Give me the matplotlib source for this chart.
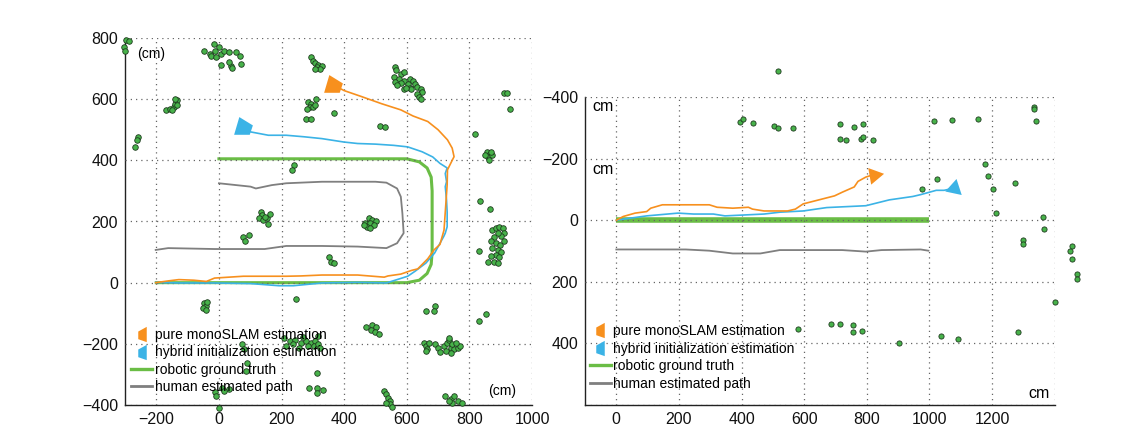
import matplotlib
matplotlib.use('Agg')
import matplotlib.pyplot as plt
from matplotlib.lines import Line2D
from matplotlib.path import Path

plt.rcParams['font.family'] = ['Liberation Sans', 'DejaVu Sans']
plt.rcParams['axes.unicode_minus'] = True

# ---------------- data: left panel (U-turn) ----------------
left_xticks = [-200, 0, 200, 400, 600, 800, 1000]
left_yticks = [-400, -200, 0, 200, 400, 600, 800]

gt_left_x = [0, 600, 640, 665, 678, 681, 681, 678, 665, 640, 600, -200]
gt_left_y = [405, 405, 395, 375, 345, 300, 100, 60, 30, 8, 0, 0]

human_left_x = [0, 101, 118, 169, 215, 329, 443, 500, 535, 569, 581, 586, 590, 569, 535, 443, 329, 215, 146, -14, -162, -202]
human_left_y = [325, 314, 308, 319, 325, 330, 330, 330, 327, 308, 281, 227, 162, 129, 113, 118, 120, 120, 110, 110, 113, 107]

mono_left_x = [-202, -160, -128, -80, -40, -14, 78, 215, 262, 329, 443, 528, 540, 581, 615, 635, 667, 687, 706, 719, 725, 729, 730, 751, 745, 730, 700, 667, 620, 581, 520, 454, 400, 364]
mono_left_y = [0, 6, 10, 8, 4, 15, 21, 21, 22, 25, 25, 18, 22, 28, 40, 45, 78, 107, 125, 172, 261, 320, 369, 412, 440, 467, 500, 527, 545, 565, 585, 609, 628, 647]

hyb_left_x = [-202, -128, -14, 101, 192, 238, 329, 443, 535, 569, 603, 626, 661, 689, 718, 723, 729, 729, 727, 723, 727, 723, 729, 706, 683, 649, 603, 558, 500, 443, 398, 329, 272, 215, 158, 101, 78]
hyb_left_y = [1, -1, -1, -3, -10, -10, -1, 1, -1, 10, 21, 37, 64, 97, 151, 162, 183, 230, 270, 314, 330, 357, 375, 390, 411, 428, 444, 449, 453, 455, 460, 471, 477, 482, 482, 493, 509]

lm_left_x = [-298, -288, -302, -301,
             -16, 0, -14, -29, -48, -25, -8, 6, 15, 32, 55, 66, 72, 38, 32, 7, 41,
             295, 301, 306, 318, 312, 329, 323, 306,
             563, 567, 581, 592, 558, 575, 592, 609, 621, 626, 603, 581, 563, 569, 592, 609, 632, 644, 649, 632, 638, 644, 615, 598,
             910, 921, 929,
             -170, -157, -145, -139, -134, -141, -134, -151,
             283, 295, 290, 301, 306, 281, 309, 278, 295, 369,
             514, 529,
             -259, -263, -267,
             818,
             855, 866, 861, 872, 850, 863, 868,
             240, 232,
             834, 866,
             133, 137, 129, 141, 152, 163, 158, 146,
             478, 489, 466, 483, 501, 495, 472, 483, 464,
             872, 884, 895, 907, 912, 901, 890, 878, 869, 884, 899, 910, 872, 890, 901, 884, 869, 895, 878, 890, 861, 832,
             78, 95, 83,
             350, 358, 366,
             247,
             -48, -42, -50, -42, -39,
             689, 663, 686,
             832, 853,
             469, 489, 501, 487, 498, 510,
             209, 226, 243, 261, 278, 295, 306, 318, 238, 284, 304, 318, 215, 255, 323, 270,
             655, 661, 666, 672, 689, 701, 718, 729, 735, 741, 752, 764, 769, 724, 706, 741, 661, 746, 758, 735,
             75, 80, 89, 87,
             312, 288, 312, 331, 312,
             -14, -8, 9, 32, 15, 0,
             526, 535, 541, 545, 547, 552, 535,
             723, 741, 752, 764, 775, 746, 735]
lm_left_y = [792, 790, 770, 758,
             780, 770, 759, 748, 759, 742, 739, 748, 759, 753, 753, 742, 715, 710, 721, 713, 702,
             737, 726, 718, 713, 705, 710, 699, 699,
             705, 694, 683, 688, 672, 667, 661, 667, 661, 650, 650, 652, 656, 645, 634, 637, 639, 634, 623, 618, 607, 599, 634, 637,
             620, 620, 569,
             563, 569, 574, 585, 596, 601, 580, 565,
             590, 585, 574, 574, 580, 569, 601, 536, 534, 555,
             511, 509,
             477, 466, 442,
             485,
             428, 422, 411, 417, 417, 401, 428,
             384, 368,
             268, 240,
             232, 221, 211, 205, 211, 225, 192, 216,
             211, 205, 196, 194, 200, 189, 183, 178, 189,
             173, 178, 182, 178, 162, 151, 162, 149, 135, 129, 124, 135, 113, 107, 99, 91, 86, 83, 69, 64, 67, 105,
             149, 156, 135,
             84, 69, 64,
             -53,
             -66, -77, -82, -88, -64,
             -77, -93, -93,
             -126, -104,
             -144, -137, -144, -155, -162, -167,
             -180, -191, -186, -197, -191, -197, -191, -175, -202, -207, -207, -202, -207, -213, -213, -177,
             -196, -207, -218, -196, -202, -213, -207, -196, -186, -213, -218, -213, -207, -223, -227, -229, -223, -202, -196, -180,
             -202, -218, -262, -289,
             -294, -344, -344, -351, -361,
             -359, -370, -343, -348, -354, -411,
             -354, -365, -376, -387, -397, -405, -392,
             -370, -381, -370, -387, -394, -394, -387]

# ---------------- data: right panel (straight line) ----------------
right_xticks = [0, 200, 400, 600, 800, 1000, 1200, 1400]
right_xlabels = ['0', '200', '400', '600', '800', '1000', '1200', '']
right_yticks = [-400, -200, 0, 200, 400, 600]
right_ylabels = ['\u2212400', '\u2212200', '0', '200', '400', '']

gt_right_x = [0, 1000]
gt_right_y = [0, 0]

human_right_x = [0, 222, 297, 372, 460, 522, 722, 797, 847, 972, 997]
human_right_y = [95, 95, 99, 108, 108, 97, 97, 102, 97, 95, 99]

mono_right_x = [0, 22, 60, 97, 110, 147, 297, 322, 372, 422, 435, 472, 547, 572, 597, 647, 697, 722, 760, 772, 797, 822]
mono_right_y = [0, -12, -23, -28, -39, -50, -50, -42, -39, -42, -36, -30, -30, -36, -53, -66, -79, -91, -108, -126, -140, -148]

hyb_right_x = [0, 47, 97, 197, 247, 310, 347, 472, 522, 597, 672, 797, 872, 947, 972, 1022, 1047, 1079]
hyb_right_y = [0, -7, -14, -23, -20, -20, -14, -20, -26, -30, -41, -47, -66, -77, -83, -97, -97, -104]

lm_right_x = [516, 394, 404, 436, 504, 516, 564, 716, 760, 789, 714, 735, 781, 789, 820,
              1014, 1071, 1154, 1333, 1333, 1341, 1179, 1187, 1204, 1273, 1214, 1023, 975,
              1364, 1365, 1298, 1300, 1454, 1448, 1456, 1473, 1473, 1401,
              580, 685, 714, 755, 757, 784, 904, 1038, 1090, 1283]
lm_right_y = [-483, -318, -330, -316, -305, -300, -298, -311, -303, -311, -264, -259, -264, -270, -262,
              -323, -326, -327, -368, -360, -323, -184, -142, -100, -121, -25, -135, -101,
              -11, 29, 64, 77, 84, 99, 126, 175, 191, 266,
              353, 337, 337, 339, 363, 361, 398, 376, 386, 364]

legend_labels = ['pure monoSLAM estimation', 'hybrid initialization estimation',
                 'robotic ground truth', 'human estimated path']

# ---------------- styles ----------------
C_ORANGE = '#f7901e'
C_BLUE = '#3bb3e6'
C_GREEN = '#6abd45'
C_GRAY = '#7f7f7f'
C_LM = '#47b24a'
C_LMEDGE = '#1e3a1e'

end_marker = Path([(-0.9, -0.7), (-0.4, 1.0), (0.9, 0.2), (0.6, -0.7), (-0.9, -0.7)],
                  [Path.MOVETO, Path.LINETO, Path.LINETO, Path.LINETO, Path.CLOSEPOLY])
leg_marker = Path([(-0.5, 0.35), (0.5, 0.9), (0.5, -0.9), (-0.5, -0.55), (-0.5, 0.35)],
                  [Path.MOVETO, Path.LINETO, Path.LINETO, Path.LINETO, Path.CLOSEPOLY])

FS_TICK = 11.5
FS_LEG = 10

fig = plt.figure(figsize=(11.43, 4.30), dpi=100)
axL = fig.add_axes([125 / 1143, 25 / 430, 407 / 1143, 367 / 430])
axR = fig.add_axes([585 / 1143, 25 / 430, 469.6 / 1143, 308 / 430])


def style_axes(ax):
    for s in ['top', 'right']:
        ax.spines[s].set_visible(False)
    for s in ['left', 'bottom']:
        ax.spines[s].set_linewidth(1.0)
        ax.spines[s].set_color('#222222')
    ax.grid(True, linestyle=(0, (1, 3.2)), linewidth=0.9, color='#666666')
    ax.set_axisbelow(False)
    ax.tick_params(length=0, labelsize=FS_TICK, pad=5, colors='#111111')


def legend_handles(ms):
    return [Line2D([], [], linestyle='None', marker=leg_marker, markersize=ms, color=C_ORANGE, markeredgewidth=0),
            Line2D([], [], linestyle='None', marker=leg_marker, markersize=ms, color=C_BLUE, markeredgewidth=0),
            Line2D([], [], color=C_GREEN, linewidth=2.4),
            Line2D([], [], color=C_GRAY, linewidth=2.0)]


# ---------------- left panel ----------------
style_axes(axL)
axL.set_xlim(-300, 1000)
axL.set_ylim(-400, 800)
axL.set_xticks(left_xticks)
axL.set_yticks(left_yticks)

axL.plot(gt_left_x, gt_left_y, color=C_GREEN, linewidth=2.2, zorder=2)
axL.plot(human_left_x, human_left_y, color=C_GRAY, linewidth=1.3, zorder=2)
axL.plot(hyb_left_x, hyb_left_y, color=C_BLUE, linewidth=1.2, zorder=3)
axL.plot(mono_left_x, mono_left_y, color=C_ORANGE, linewidth=1.2, zorder=3)
axL.plot(mono_left_x[-1], mono_left_y[-1], marker=end_marker, markersize=15, color=C_ORANGE,
         markeredgewidth=0, linestyle='None', zorder=4)
axL.plot(hyb_left_x[-1], hyb_left_y[-1], marker=end_marker, markersize=15, color=C_BLUE,
         markeredgewidth=0, linestyle='None', zorder=4)
axL.scatter(lm_left_x, lm_left_y, s=16, c=C_LM, edgecolors=C_LMEDGE, linewidths=0.6,
            zorder=5, clip_on=False)

axL.text(-262, 748, '(cm)', fontsize=FS_LEG, va='center', ha='left')
axL.text(950, -354, '(cm)', fontsize=FS_LEG, va='center', ha='right')

axL.legend(legend_handles(11), legend_labels, loc='upper left', bbox_to_anchor=(0.015, 0.21),
           frameon=False, fontsize=FS_LEG, handlelength=1.5, handletextpad=0.2,
           labelspacing=0.25, borderpad=0, borderaxespad=0)

# ---------------- right panel ----------------
style_axes(axR)
axR.set_xlim(-100, 1400)
axR.set_ylim(600, -400)
axR.set_xticks(right_xticks)
axR.set_xticklabels(right_xlabels)
axR.set_yticks(right_yticks)
axR.set_yticklabels(right_ylabels)

axR.plot(gt_right_x, gt_right_y, color=C_GREEN, linewidth=4.0, solid_capstyle='butt', zorder=2)
axR.plot(human_right_x, human_right_y, color=C_GRAY, linewidth=1.3, zorder=2)
axR.plot(hyb_right_x, hyb_right_y, color=C_BLUE, linewidth=1.2, zorder=3)
axR.plot(mono_right_x, mono_right_y, color=C_ORANGE, linewidth=1.2, zorder=3)
axR.plot(mono_right_x[-1], mono_right_y[-1], marker=(3, 0, -80), markersize=14, color=C_ORANGE,
         markeredgewidth=0, linestyle='None', zorder=4)
axR.plot(hyb_right_x[-1], hyb_right_y[-1], marker=(3, 0, -12), markersize=14, color=C_BLUE,
         markeredgewidth=0, linestyle='None', zorder=4)
axR.scatter(lm_right_x, lm_right_y, s=14, c=C_LM, edgecolors=C_LMEDGE, linewidths=0.6,
            zorder=5, clip_on=False)

axR.text(-78, -368, 'cm', fontsize=FS_TICK, va='center', ha='left')
axR.text(-78, -166, 'cm', fontsize=FS_TICK, va='center', ha='left')
axR.text(1385, 564, 'cm', fontsize=FS_TICK, va='center', ha='right')

axR.legend(legend_handles(11), legend_labels, loc='upper left', bbox_to_anchor=(0.01, 0.262),
           frameon=False, fontsize=FS_LEG, handlelength=1.5, handletextpad=0.2,
           labelspacing=0.25, borderpad=0, borderaxespad=0)

fig.savefig('out.png', dpi=100)
